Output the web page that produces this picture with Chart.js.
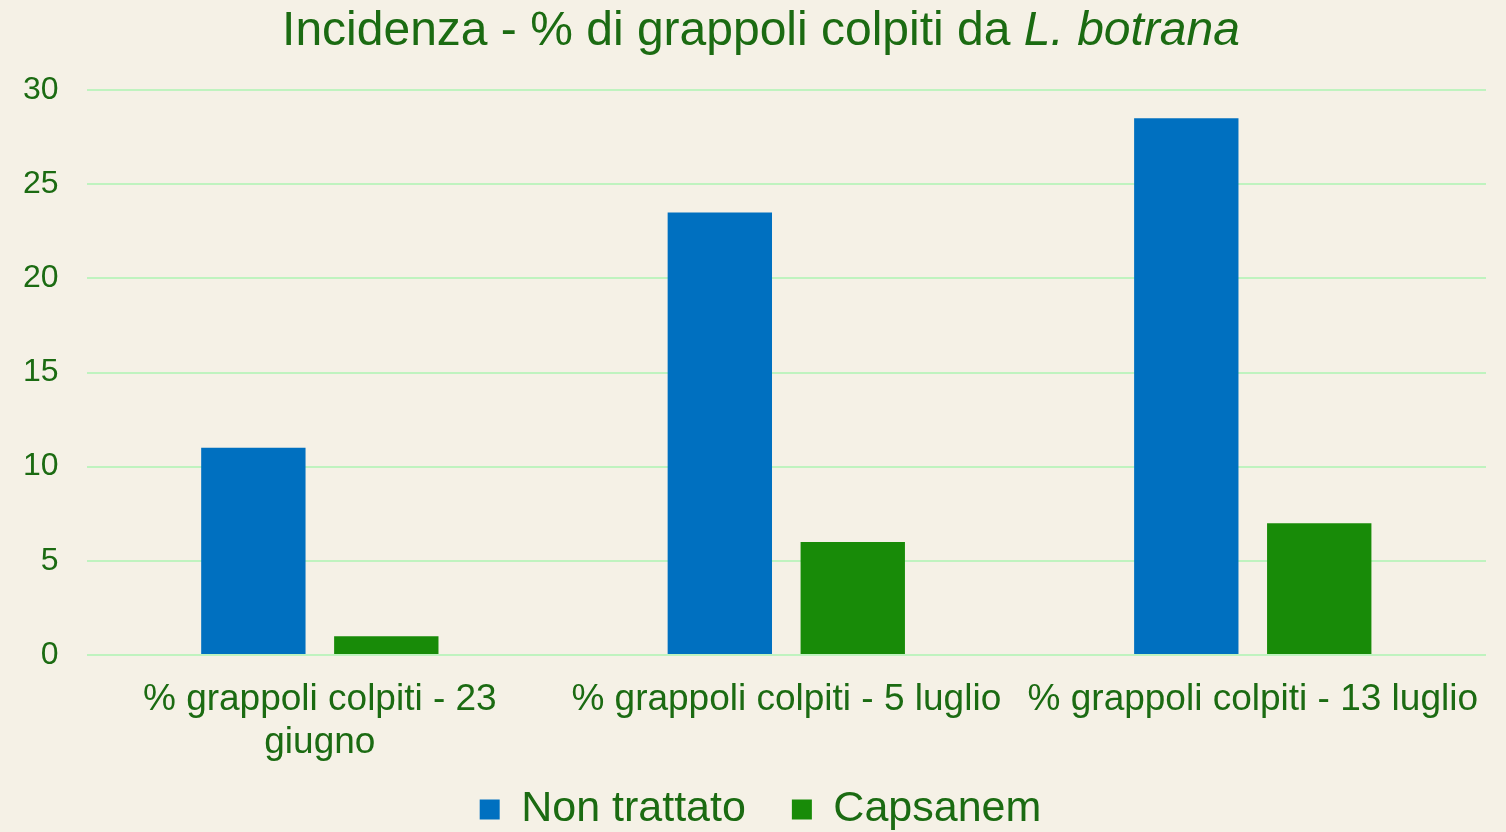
<!DOCTYPE html>
<html>
<head>
<meta charset="utf-8">
<script src="https://cdn.jsdelivr.net/npm/chart.js@4"></script>
<style>
  html, body { margin: 0; padding: 0; background: #F5F1E6; }
  #wrap { width: 1506px; height: 832px; }
</style>
</head>
<body>
<div id="wrap"><canvas id="grafico" width="1506" height="832"></canvas></div>
<script>
// dati
const categorie = [
  ['% grappoli colpiti - 23', 'giugno'],
  '% grappoli colpiti - 5 luglio',
  '% grappoli colpiti - 13 luglio'
];
const nonTrattato = [11, 23.5, 28.5];
const capsanem = [1, 6, 7];
const tickY = [0, 5, 10, 15, 20, 25, 30];

const verdeTesto = '#1B6B12';
const font = "'Liberation Sans', Arial, sans-serif";

// titolo con parte in corsivo + piccoli aggiustamenti di layout
const titoloPlugin = {
  id: 'titolo',
  afterLayout(chart) {
    // le etichette dell'asse x scendono sotto la legenda: allargo l'area di clip
    chart.scales.x.bottom = chart.height;
    // legenda centrata come il titolo
    chart.legend.left += 20;
    chart.legend.right += 20;
  },
  afterDraw(chart) {
    const ctx = chart.ctx;
    const parti = [
      { t: 'Incidenza - % di grappoli colpiti da ', f: `48px ${font}` },
      { t: 'L. botrana', f: `italic 48px ${font}` }
    ];
    ctx.save();
    let tot = 0;
    parti.forEach(p => { ctx.font = p.f; tot += ctx.measureText(p.t).width; });
    let x = 761 - tot / 2;
    ctx.fillStyle = verdeTesto;
    ctx.textBaseline = 'alphabetic';
    parti.forEach(p => {
      ctx.font = p.f;
      ctx.fillText(p.t, x, 45);
      x += ctx.measureText(p.t).width;
    });
    ctx.restore();
  }
};

const ctx = document.getElementById('grafico').getContext('2d');
new Chart(ctx, {
  type: 'bar',
  data: {
    labels: categorie,
    datasets: [
      { label: 'Non trattato', data: nonTrattato, backgroundColor: '#0070C0' },
      { label: 'Capsanem', data: capsanem, backgroundColor: '#188B08' }
    ]
  },
  options: {
    responsive: false,
    animation: false,
    layout: { padding: { top: 90, right: 20, left: -5, bottom: -9 } },
    datasets: { bar: { categoryPercentage: 0.57, barPercentage: 0.785 } },
    plugins: {
      legend: {
        position: 'bottom',
        labels: {
          color: verdeTesto,
          font: { family: font, size: 43 },
          boxWidth: 20,
          boxHeight: 20,
          padding: 46
        }
      },
      tooltip: { enabled: false }
    },
    scales: {
      x: {
        grid: { display: false },
        border: { display: false },
        afterFit(scale) { scale.height = 87; },
        ticks: {
          color: verdeTesto,
          font: { family: font, size: 37, lineHeight: 1.16 },
          maxRotation: 0,
          autoSkip: false,
          padding: 15
        }
      },
      y: {
        min: 0,
        max: 30,
        afterBuildTicks(scale) { scale.ticks = tickY.map(v => ({ value: v })); },
        grid: { color: '#BFF3BF', lineWidth: 2, drawTicks: false },
        border: { display: false },
        ticks: {
          color: verdeTesto,
          font: { family: font, size: 32 },
          padding: 28
        }
      }
    }
  },
  plugins: [titoloPlugin]
});
</script>
</body>
</html>
